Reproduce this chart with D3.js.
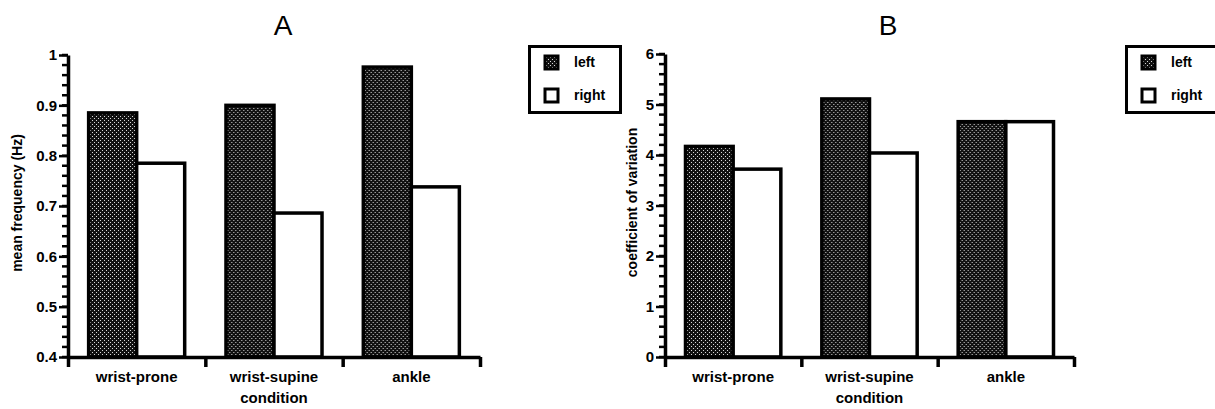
<!DOCTYPE html>
<html>
<head>
<meta charset="utf-8">
<script src="https://cdn.jsdelivr.net/npm/d3@7"></script>
<style>
  html, body { margin: 0; padding: 0; background: #fff; }
  svg { display: block; }
  text { font-family: "Liberation Sans", Arial, Helvetica, sans-serif; fill: #000; }
</style>
</head>
<body>
<svg id="chart" width="1215" height="409"></svg>
<script>
// Conditions on the x axis and the two sides measured
const categories = ["wrist-prone", "wrist-supine", "ankle"];
const sides = ["left", "right"];

// Panel A: mean frequency (Hz)
const freqLeft = [0.885, 0.90, 0.976];
const freqRight = [0.785, 0.686, 0.738];
const freqTicks = [0.4, 0.5, 0.6, 0.7, 0.8, 0.9, 1];
const freqTickLabels = ["0.4", "0.5", "0.6", "0.7", "0.8", "0.9", "1"];

// Panel B: coefficient of variation
const cvLeft = [4.17, 5.11, 4.66];
const cvRight = [3.72, 4.04, 4.66];
const cvTicks = [0, 1, 2, 3, 4, 5, 6];
const cvTickLabels = ["0", "1", "2", "3", "4", "5", "6"];

const xTitle = "condition";

const svg = d3.select("#chart");

// Dotted dark fill used for the "left" bars
const defs = svg.append("defs");
const pat = defs.append("pattern")
  .attr("id", "dots")
  .attr("patternUnits", "userSpaceOnUse")
  .attr("width", 4).attr("height", 4);
pat.append("rect").attr("width", 4).attr("height", 4).attr("fill", "#111");
pat.append("rect").attr("x", 0).attr("y", 0).attr("width", 1).attr("height", 1).attr("fill", "#d8d8d8");
pat.append("rect").attr("x", 2).attr("y", 2).attr("width", 1).attr("height", 1).attr("fill", "#d8d8d8");

const fills = { left: "url(#dots)", right: "#fff" };

function drawPanel(cfg) {
  const g = svg.append("g");
  const rows = categories.map((c, i) => ({ cat: c, left: cfg.left[i], right: cfg.right[i] }));

  const x0 = d3.scaleBand().domain(categories).range([cfg.x0, cfg.x1]).padding(0);
  const x1 = d3.scaleBand().domain(sides).range([0, x0.bandwidth()]).paddingInner(0).paddingOuter(0.43);
  const y = d3.scaleLinear().domain(cfg.domain).range([cfg.yBottom, cfg.yTop]);

  // bars
  g.selectAll("g.group").data(rows).join("g")
    .attr("class", "group")
    .attr("transform", d => `translate(${x0(d.cat)},0)`)
    .selectAll("rect")
    .data(d => sides.map(s => ({ side: s, value: d[s] })))
    .join("rect")
    .attr("x", d => x1(d.side))
    .attr("width", x1.bandwidth())
    .attr("y", d => y(d.value))
    .attr("height", d => y(cfg.domain[0]) - y(d.value))
    .attr("fill", d => fills[d.side])
    .attr("stroke", "#000")
    .attr("stroke-width", 3.5);

  // y axis: minor ticks every fifth of a major step
  const minorStep = (cfg.domain[1] - cfg.domain[0]) / 30;
  const minor = d3.range(0, 31).map(i => cfg.domain[0] + i * minorStep);
  g.append("g").selectAll("line").data(minor).join("line")
    .attr("x1", cfg.x0 - 6).attr("x2", cfg.x0)
    .attr("y1", d => y(d)).attr("y2", d => y(d))
    .attr("stroke", "#000").attr("stroke-width", 2.5);

  // y axis: major ticks and labels
  const yMajor = g.append("g")
    .attr("transform", `translate(${cfg.x0},0)`)
    .call(d3.axisLeft(y).tickValues(cfg.ticks).tickSize(9).tickSizeOuter(0)
      .tickFormat((d, i) => cfg.tickLabels[i]));
  yMajor.select(".domain").attr("stroke", "#000").attr("stroke-width", 3.5);
  yMajor.selectAll("line").attr("stroke", "#000").attr("stroke-width", 2.5);
  yMajor.selectAll("text")
    .attr("font-size", 15).attr("font-weight", "bold").attr("x", -11);

  // x axis: boundary ticks between conditions
  const edges = categories.map(c => x0(c)).concat([cfg.x1]);
  const xb = d3.scaleLinear().domain([0, edges.length - 1]).range([cfg.x0, cfg.x1]);
  const xAxis = g.append("g")
    .attr("transform", `translate(0,${cfg.yBottom})`)
    .call(d3.axisBottom(xb).tickValues(d3.range(edges.length)).tickSize(10).tickSizeOuter(0).tickFormat(""));
  xAxis.select(".domain").attr("stroke", "#000").attr("stroke-width", 3.5);
  xAxis.selectAll("line").attr("stroke", "#000").attr("stroke-width", 3.5);

  // category labels
  g.selectAll("text.cat").data(categories).join("text")
    .attr("class", "cat")
    .attr("x", d => x0(d) + x0.bandwidth() / 2)
    .attr("y", cfg.yBottom + 25)
    .attr("text-anchor", "middle")
    .attr("font-size", 15).attr("font-weight", "bold")
    .text(d => d);

  g.append("text")
    .attr("x", x0(categories[1]) + x0.bandwidth() / 2)
    .attr("y", cfg.yBottom + 46)
    .attr("text-anchor", "middle")
    .attr("font-size", 15).attr("font-weight", "bold")
    .text(xTitle);

  // y title
  g.append("text")
    .attr("transform", `translate(${cfg.yTitleX},${(cfg.yTop + cfg.yBottom) / 2 - 3}) rotate(-90)`)
    .attr("text-anchor", "middle")
    .attr("font-size", 14).attr("font-weight", "bold")
    .text(cfg.yTitle);

  // panel letter
  g.append("text")
    .attr("x", cfg.titleX).attr("y", 35)
    .attr("text-anchor", "middle")
    .attr("font-size", 28)
    .text(cfg.title);

  // legend
  const lg = g.append("g").attr("transform", `translate(${cfg.legendX},45)`);
  lg.append("rect").attr("x", 1.5).attr("y", 1.5).attr("width", 91).attr("height", 66)
    .attr("fill", "#fff").attr("stroke", "#000").attr("stroke-width", 3);
  const items = lg.selectAll("g.item").data(sides).join("g")
    .attr("class", "item")
    .attr("transform", (d, i) => `translate(16,${10 + i * 33})`);
  items.append("rect")
    .attr("x", 1).attr("y", 1).attr("width", 13).attr("height", 13)
    .attr("fill", d => fills[d]).attr("stroke", "#000").attr("stroke-width", 3);
  items.append("text")
    .attr("x", 30).attr("y", 12)
    .attr("font-size", 14).attr("font-weight", "bold")
    .text(d => d);
}

drawPanel({
  left: freqLeft, right: freqRight, domain: [0.4, 1],
  ticks: freqTicks, tickLabels: freqTickLabels,
  x0: 68, x1: 480, yTop: 55, yBottom: 357,
  yTitle: "mean frequency (Hz)", yTitleX: 22,
  title: "A", titleX: 283, legendX: 528
});

drawPanel({
  left: cvLeft, right: cvRight, domain: [0, 6],
  ticks: cvTicks, tickLabels: cvTickLabels,
  x0: 665, x1: 1074, yTop: 54, yBottom: 357,
  yTitle: "coefficient of variation", yTitleX: 637,
  title: "B", titleX: 888, legendX: 1125
});
</script>
</body>
</html>
